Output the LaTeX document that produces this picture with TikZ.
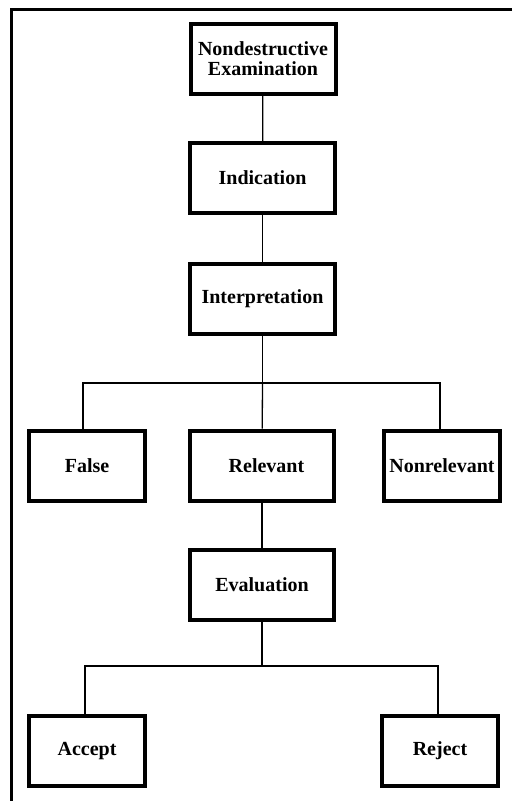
\documentclass[tikz,border=0pt]{standalone}
\usepackage{fontspec}
\setmainfont{Liberation Serif}
\usepackage{xcolor}
\usepackage{tikz}
\usetikzlibrary{shapes,arrows,positioning}

\begin{document}
\begin{tikzpicture}[
        x=1pt, y=1pt,
        stagebox/.style={
            draw,
            line width=4pt,
            minimum width=145pt,
            minimum height=70pt,
            align=center,
            inner sep=0pt,
            font=\fontsize{20}{20}\selectfont\bfseries
        },
        smallbox/.style={
            stagebox,
            minimum width=116pt
        },
        link/.style={
            line width=1.3pt
        }
    ]
                \useasboundingbox (0,0) rectangle (512,-801);

                % outer frame (top and left only)
                \draw[line width=3pt] (512,-9) -| (11,-801);

                \node[stagebox] (nde) at (263,-59) {Nondestructive\\Examination};
                \node[stagebox] (ind) at (262.5,-178) {Indication};
                \node[stagebox] (int) at (262.5,-298.5) {Interpretation};

                \node[smallbox] (fal) at (87,-465.5) {False};
                \node[stagebox, minimum width=144pt] (rel) at (262,-465.5) {\hspace{9pt}Relevant};
                \node[smallbox] (non) at (442,-465.5) {Nonrelevant};

                \node[stagebox, minimum width=144pt] (eva) at (262,-584.5) {Evaluation};

                \node[smallbox] (acc) at (87,-751) {Accept};
                \node[smallbox] (rej) at (440,-751) {Reject};

                \coordinate (splitA) at (262.5,-383);
                \coordinate (splitB) at (262,-666);

                \draw[link] (nde) -- (ind);
                \draw[link] (ind) -- (int);
                \draw[link] (int) -- (splitA);
                \draw[link] ([xshift=-4pt]fal.north) |- (splitA) -| ([xshift=-2pt]non.north);
                \draw[link] (splitA) -- (rel);
                \draw[link] (rel) -- (eva);
                \draw[link] (eva) -- (splitB);
                \draw[link] ([xshift=-2pt]acc.north) |- (splitB) -| ([xshift=-2pt]rej.north);

\end{tikzpicture}
\end{document}
